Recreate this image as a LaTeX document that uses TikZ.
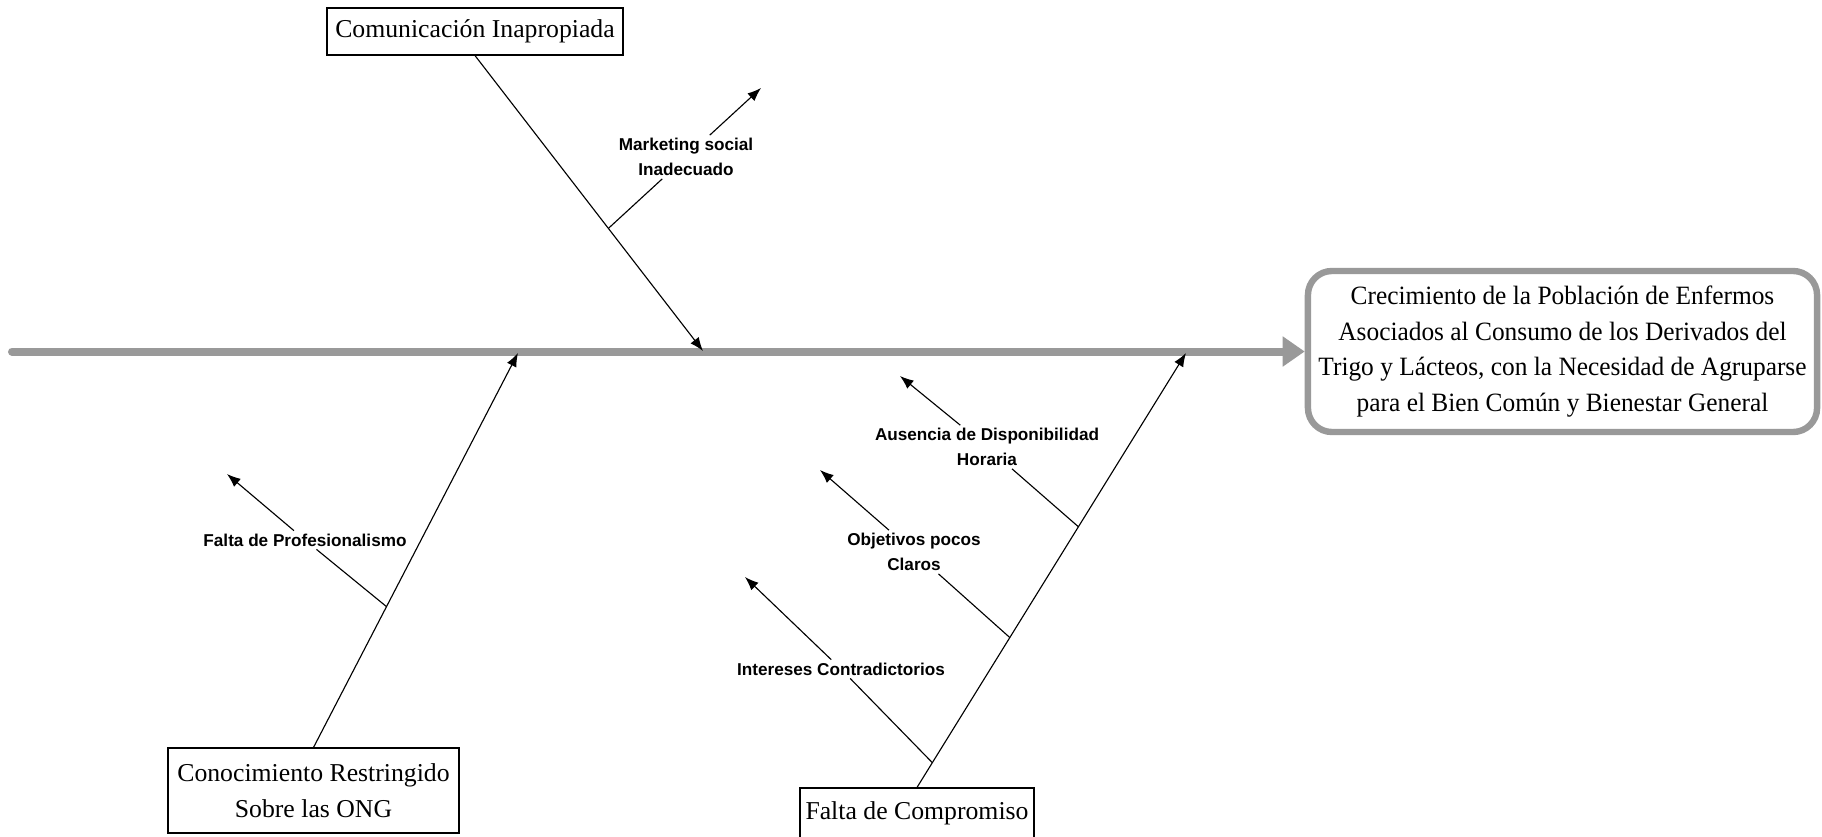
\documentclass[tikz,border=0pt]{standalone}
\usepackage{fontspec}
\setmainfont{Liberation Serif}
\setsansfont{Liberation Sans}
\newfontfamily\effectfont[FakeStretch=0.96]{Liberation Serif}
\usetikzlibrary{arrows.meta}
\definecolor{spinegray}{RGB}{153,153,153}
\tikzset{
    cause/.style={
           rectangle,
           draw=black, line width=0.8pt,
           inner sep=2pt,
           align=center,
           font=\fontsize{18.3}{26}\selectfont,
           },
    effect/.style={
           rectangle,
           rounded corners=6mm,
           draw=spinegray, line width=1.6mm,
           minimum width=12.725cm,
           minimum height=4.025cm,
           align=center,
           font=\effectfont\fontsize{18.8}{25.5}\selectfont,
           },
    subcause/.style={
           inner sep=2pt,
           align=center,
           font=\sffamily\bfseries\fontsize{12.2}{17.7}\selectfont,
           },
    spine/.style={draw=spinegray, line width=2mm, line cap=round,
           -{Triangle[length=5.5mm,width=7.2mm]}},
    bone/.style={draw=black, line width=0.8pt,
           -{Latex[length=3.4mm,width=2.6mm]}},
    twig/.style={draw=black, line width=0.8pt},
}

\begin{document}
\begin{tikzpicture}[x=0.025cm,y=-0.025cm]
 \useasboundingbox (0,0) rectangle (1822,836);

 % Effect box at the head of the fish
 \node[effect] (EFFECT) at (1562.5,351.5)
 {Crecimiento de la Población de Enfermos\\
  Asociados al Consumo de los Derivados del\\
  Trigo y Lácteos, con la Necesidad de Agruparse\\
  para el Bien Común y Bienestar General};

 % Spine
 \coordinate (TAIL) at (12,351.5);
 \draw[spine] (TAIL) -- (EFFECT.west);

 % where the main bones hit the spine
 \coordinate (S1) at (703,351);
 \coordinate (S2) at (518,353);
 \coordinate (S3) at (1186,353);

 % Main causes
 \node[cause,
  minimum width=7.4cm,
  minimum height=1.175cm] (COMUN) at (475,31.5)
 {Comunicación Inapropiada};

 \node[cause,
  minimum width=7.275cm,
  minimum height=2.125cm] (CONOC) at (313.5,790.5)
 {Conocimiento Restringido\\Sobre las ONG};

 \node[cause,
  minimum width=5.85cm,
  minimum height=1.25cm] (COMPRO) at (917,813)
 {Falta de Compromiso};

 % Main bones
 \draw[bone] (COMUN.south) -- coordinate[pos=0.585] (B1) (S1);
 \draw[bone] (CONOC.north) -- coordinate[pos=0.357] (B2) (S2);
 \draw[bone] (COMPRO.north) -- coordinate[pos=0.6] (B3)
                              coordinate[pos=0.345] (B4)
                              coordinate[pos=0.057] (B5) (S3);

 % Sub causes
 \node[subcause] (MKT) at (686,157) {Marketing social\\Inadecuado};
 \node[subcause] (PROF) at (305,540) {Falta de Profesionalismo};
 \node[subcause] (HORA) at (987,447) {Ausencia de Disponibilidad\\Horaria};
 \node[subcause] (OBJ) at (914,552) {Objetivos pocos\\Claros};
 \node[subcause] (INTER) at (841,669) {Intereses Contradictorios};

 \coordinate (T1) at (761,88);
 \coordinate (T2) at (227,474);
 \coordinate (T3) at (900,376);
 \coordinate (T4) at (820,470);
 \coordinate (T5) at (745,577);

 % Sub bones, broken by their labels
 \draw[twig] (B1) -- (MKT);   \draw[bone] (MKT) -- (T1);
 \draw[twig] (B2) -- (PROF);  \draw[bone] (PROF) -- (T2);
 \draw[twig] (B3) -- (HORA);  \draw[bone] (HORA) -- (T3);
 \draw[twig] (B4) -- (OBJ);   \draw[bone] (OBJ) -- (T4);
 \draw[twig] (B5) -- (INTER); \draw[bone] (INTER) -- (T5);

\end{tikzpicture}
\end{document}
